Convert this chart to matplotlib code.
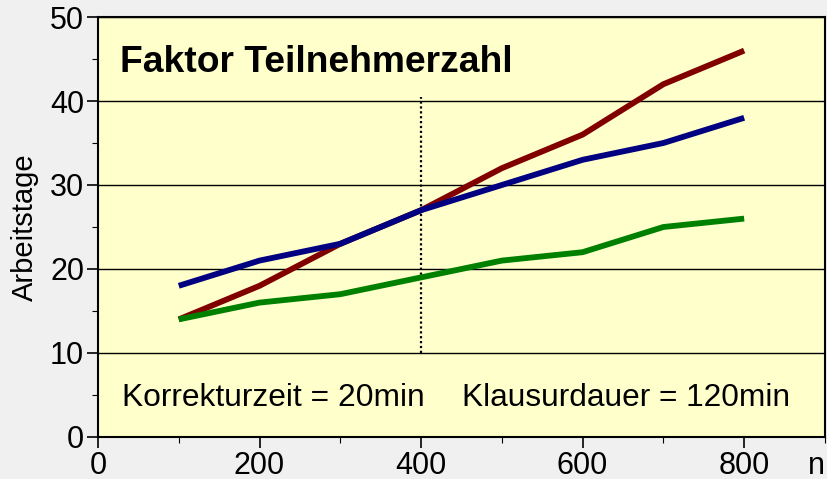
import matplotlib
matplotlib.use("Agg")
import matplotlib.pyplot as plt
from matplotlib.ticker import MultipleLocator

plt.rcParams['font.family'] = ['Liberation Sans', 'DejaVu Sans']

# data
teilnehmer = [100, 200, 300, 400, 500, 600, 700, 800]
rot = [14, 18, 23, 27, 32, 36, 42, 46]
blau = [18, 21, 23, 27, 30, 33, 35, 38]
gruen = [14, 16, 17, 19, 21, 22, 25, 26]
marker_x = 400
marker_y = [10, 40.5]

fig = plt.figure(figsize=(8.27, 4.79), dpi=100, facecolor="#f0f0f0")
ax = fig.add_axes([0.1185, 0.0877, 0.879, 0.8768])
ax.set_facecolor("#ffffcc")

ax.plot(teilnehmer, rot, color="#800000", lw=4.2, solid_capstyle="butt", zorder=3)
ax.plot(teilnehmer, blau, color="#000080", lw=4.2, solid_capstyle="butt", zorder=4)
ax.plot(teilnehmer, gruen, color="#008000", lw=4.2, solid_capstyle="butt", zorder=3)
ax.plot([marker_x, marker_x], marker_y, color="black", lw=1.6, ls=(0, (1, 1.2)), zorder=2)

ax.set_xlim(0, 900)
ax.set_ylim(0, 50)
ax.xaxis.set_major_locator(MultipleLocator(200))
ax.xaxis.set_minor_locator(MultipleLocator(100))
ax.yaxis.set_major_locator(MultipleLocator(10))
ax.yaxis.set_minor_locator(MultipleLocator(5))
ax.tick_params(which="major", length=8, width=1.2, labelsize=22, pad=2)
ax.tick_params(which="minor", length=4, width=0.8)
ax.grid(axis="y", which="major", color="black", lw=1, zorder=1)
for s in ax.spines.values():
    s.set_linewidth(1.5)

ax.set_ylabel("Arbeitstage", fontsize=21, labelpad=8)
ax.text(120 / 827, 1 - 62 / 479, "Faktor Teilnehmerzahl", transform=fig.transFigure,
        fontsize=26.8, fontweight="bold", va="center", ha="left")
ax.text(122 / 827, 1 - 398 / 479, "Korrekturzeit = 20min", transform=fig.transFigure,
        fontsize=22.9, va="center", ha="left")
ax.text(462 / 827, 1 - 398 / 479, "Klausurdauer = 120min", transform=fig.transFigure,
        fontsize=22.8, va="center", ha="left")
fig.text(808 / 827, 1 - 466 / 479, "n", fontsize=22, va="center", ha="left")

fig.savefig("out.png", dpi=100, facecolor=fig.get_facecolor())
